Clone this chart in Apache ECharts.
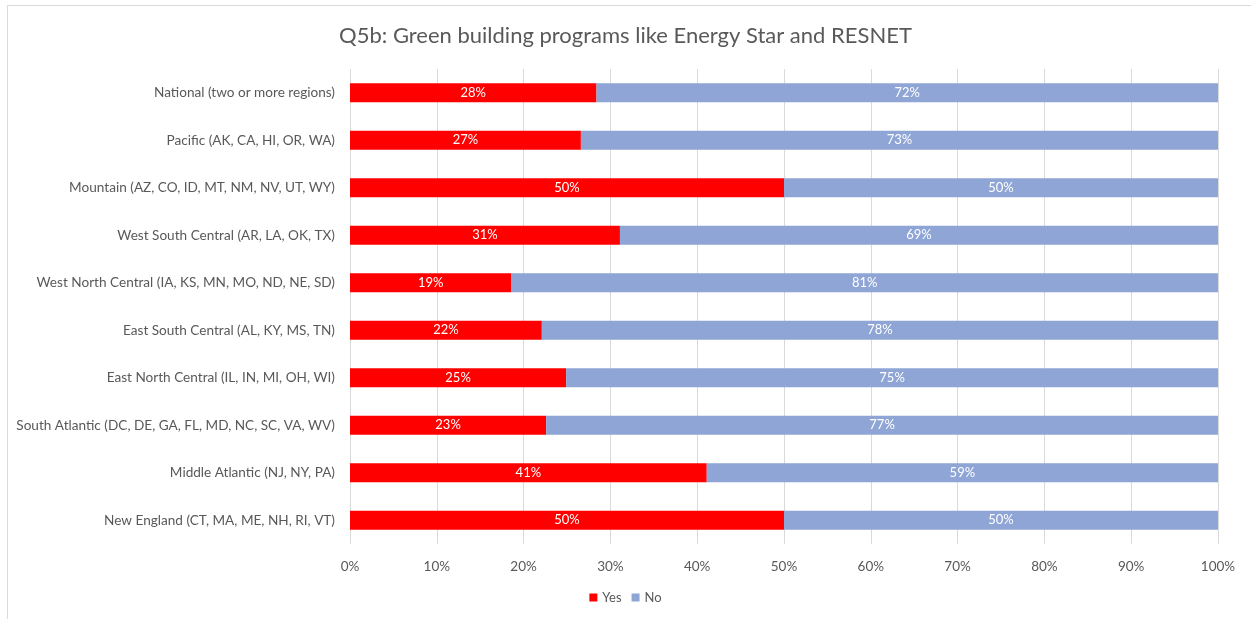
<!DOCTYPE html>
<html>
<head>
<meta charset="utf-8">
<script src="https://cdn.jsdelivr.net/npm/echarts@6/dist/echarts.min.js"></script>
<style>
  html, body { margin: 0; padding: 0; background: #fff; overflow: hidden; }
  #frame { position: absolute; left: 7px; top: 5px; width: 1260px; height: 640px; border: 1px solid #d9d9d9; box-sizing: border-box; }
  #main { position: absolute; left: 0; top: 0; width: 1251px; height: 619px; }
</style>
</head>
<body>
<div id="frame"></div>
<div id="main"></div>
<script>
// categories, bottom to top as on the axis
var regions = [
  'New England (CT, MA, ME, NH, RI, VT)',
  'Middle Atlantic (NJ, NY, PA)',
  'South Atlantic (DC, DE, GA, FL, MD, NC, SC, VA, WV)',
  'East North Central (IL, IN, MI, OH, WI)',
  'East South Central (AL, KY, MS, TN)',
  'West North Central (IA, KS, MN, MO, ND, NE, SD)',
  'West South Central (AR, LA, OK, TX)',
  'Mountain (AZ, CO, ID, MT, NM, NV, UT, WY)',
  'Pacific (AK, CA, HI, OR, WA)',
  'National (two or more regions)'
];
var yesValues = [50, 41.1, 22.6, 24.9, 22.1, 18.6, 31.1, 50, 26.6, 28.4];
var noValues = [50, 58.9, 77.4, 75.1, 77.9, 81.4, 68.9, 50, 73.4, 71.6];
var xTicks = [0, 10, 20, 30, 40, 50, 60, 70, 80, 90, 100];

var font = 'Lato, "Open Sans", sans-serif';
var myChart = echarts.init(document.getElementById('main'));

var labelStyle = {
  show: true,
  position: 'inside',
  color: '#ffffff',
  fontSize: 13,
  fontFamily: font,
  formatter: function (p) { return Math.round(p.value) + '%'; }
};

var option = {
  animation: false,
  title: {
    text: 'Q5b: Green building programs like Energy Star and RESNET',
    left: 'center',
    top: 20,
    textStyle: { color: '#595959', fontSize: 22, fontWeight: 'normal', fontFamily: font }
  },
  legend: {
    bottom: 10,
    left: 'center',
    itemWidth: 8,
    itemHeight: 8,
    itemGap: 10,
    icon: 'rect',
    textStyle: { color: '#595959', fontSize: 13, fontFamily: font },
    data: ['Yes', 'No']
  },
  grid: { left: 350, right: 33, top: 69, bottom: 75 },
  xAxis: {
    type: 'value',
    min: xTicks[0],
    max: xTicks[xTicks.length - 1],
    interval: 10,
    axisLine: { show: false },
    axisTick: { show: false },
    splitLine: { lineStyle: { color: '#d9d9d9', width: 1 } },
    axisLabel: {
      color: '#595959', fontSize: 13.5, fontFamily: font, margin: 16,
      formatter: '{value}%'
    }
  },
  yAxis: {
    type: 'category',
    data: regions,
    axisLine: { show: false },
    axisTick: { show: false },
    axisLabel: { color: '#595959', fontSize: 13.6, fontFamily: font, margin: 15 }
  },
  series: [
    {
      name: 'Yes',
      type: 'bar',
      stack: 'total',
      barWidth: 19,
      itemStyle: { color: '#ff0000' },
      label: labelStyle,
      data: yesValues
    },
    {
      name: 'No',
      type: 'bar',
      stack: 'total',
      barWidth: 19,
      itemStyle: { color: '#8ea5d6' },
      label: labelStyle,
      data: noValues
    }
  ]
};

myChart.setOption(option);
window.addEventListener('resize', function () {
  myChart.resize();
});
</script>
</body>
</html>
